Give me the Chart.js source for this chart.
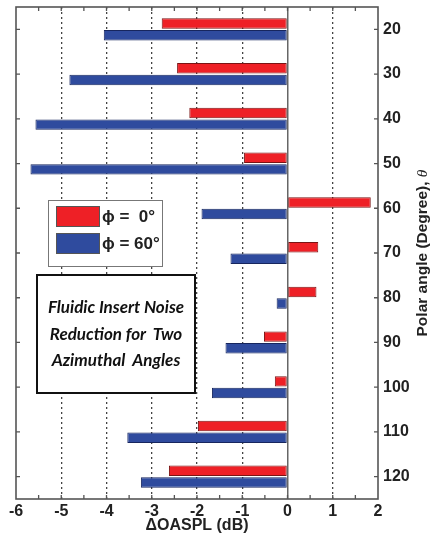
<!DOCTYPE html>
<html lang="en">
<head>
<meta charset="UTF-8">
<script src="https://cdn.jsdelivr.net/npm/chart.js"></script>
<style>
  body { margin: 0; background: #fff; }
  #wrap { position: relative; width: 432px; height: 535px; }
  .legend { position: absolute; left: 48px; top: 200px; width: 113px; height: 65px; border: 1.5px solid #777; background: #fff; }
  .legend .sw { position: absolute; left: 7px; width: 42px; height: 19px; border: 1px solid #555; }
  .legend .lb { position: absolute; left: 53px; font: bold 17px "Liberation Sans", Arial, sans-serif; color: #222; white-space: pre; }
  .note { position: absolute; left: 36px; top: 274px; width: 156px; height: 116px; border: 2px solid #111; background: #fff;
          font: italic bold 17px Lato, "Open Sans", sans-serif; color: #111; text-align: center; line-height: 26.5px;
          display: flex; flex-direction: column; justify-content: center; }
</style>
</head>
<body>
<div id="wrap">
  <canvas id="chart" width="432" height="535"></canvas>
  <div class="legend">
    <div class="sw" id="sw0" style="top:5px"></div><div class="lb" style="top:6px">ϕ =  0°</div>
    <div class="sw" id="sw1" style="top:32px"></div><div class="lb" style="top:33px">ϕ = 60°</div>
  </div>
  <div class="note">
    <div>Fluidic Insert Noise</div>
    <div>Reduction for&nbsp; Two</div>
    <div>Azimuthal&nbsp; Angles</div>
  </div>
</div>
<script>
const angles = ['20', '30', '40', '50', '60', '70', '80', '90', '100', '110', '120'];
const phi0 = [-2.78, -2.44, -2.17, -0.96, 1.84, 0.68, 0.64, -0.52, -0.28, -1.98, -2.62];
const phi60 = [-4.06, -4.82, -5.57, -5.68, -1.90, -1.26, -0.24, -1.37, -1.67, -3.54, -3.24];
const xMin = -6, xMax = 2;

const redFill = '#ee2026', redEdge = '#7a1414';
const blueFill = '#2f4b9e', blueEdge = '#17265e';
document.getElementById('sw0').style.background = redFill;
document.getElementById('sw1').style.background = blueFill;

const tickFont = { family: '"Liberation Sans", Arial, sans-serif', size: 16, weight: 'bold' };

const framePlugin = {
  id: 'frame',
  afterDraw(chart) {
    const { ctx, chartArea: a, scales: { x, y } } = chart;
    ctx.save();
    ctx.strokeStyle = '#555';
    ctx.lineWidth = 1.3;
    ctx.beginPath();
    for (let v = xMin + 0.5; v < xMax; v += 0.5) {
      const px = x.getPixelForValue(v);
      ctx.moveTo(px, a.top); ctx.lineTo(px, a.top + 4);
      ctx.moveTo(px, a.bottom); ctx.lineTo(px, a.bottom - 4);
    }
    angles.forEach((l, i) => {
      const py = y.getPixelForValue(i);
      ctx.moveTo(a.left, py); ctx.lineTo(a.left + 4, py);
      ctx.moveTo(a.right, py); ctx.lineTo(a.right - 4, py);
    });
    ctx.stroke();
    ctx.lineWidth = 1.6;
    ctx.strokeRect(a.left, a.top, a.right - a.left, a.bottom - a.top);

    // right-hand axis title, reading bottom to top
    ctx.translate(423, (a.top + a.bottom) / 2);
    ctx.rotate(-Math.PI / 2);
    const main = 'Polar angle (Degree), ';
    const mainFont = 'bold 15.5px "Liberation Sans", Arial, sans-serif';
    const thetaFont = 'italic 15.5px "Liberation Serif", serif';
    ctx.font = mainFont;
    const w1 = ctx.measureText(main).width;
    ctx.font = thetaFont;
    const w2 = ctx.measureText('θ').width;
    const sx = -(w1 + w2) / 2;
    ctx.fillStyle = '#222';
    ctx.textBaseline = 'middle';
    ctx.font = mainFont;
    ctx.fillText(main, sx, 0);
    ctx.font = thetaFont;
    ctx.fillText('θ', sx + w1, 0);
    ctx.restore();
  }
};

new Chart(document.getElementById('chart'), {
  type: 'bar',
  data: {
    labels: angles,
    datasets: [
      { label: 'ϕ = 0°', data: phi0, backgroundColor: redFill, borderColor: redEdge, borderWidth: 1, borderSkipped: false,
        categoryPercentage: 0.52, barPercentage: 0.9 },
      { label: 'ϕ = 60°', data: phi60, backgroundColor: blueFill, borderColor: blueEdge, borderWidth: 1, borderSkipped: false,
        categoryPercentage: 0.52, barPercentage: 0.9 }
    ]
  },
  options: {
    indexAxis: 'y',
    responsive: false,
    animation: false,
    layout: { padding: { left: 16, top: 7, right: 0, bottom: 0 } },
    plugins: { legend: { display: false }, tooltip: { enabled: false } },
    scales: {
      x: {
        type: 'linear',
        min: xMin, max: xMax,
        ticks: { stepSize: 1, color: '#222', font: tickFont, padding: 3, maxRotation: 0 },
        grid: {
          drawTicks: false,
          lineWidth: c => (c.tick && c.tick.value === 0 ? 1.5 : 1.3),
          color: c => {
            if (!c.tick) return '#444';
            if (c.tick.value === xMin || c.tick.value === xMax) return 'rgba(0,0,0,0)';
            return c.tick.value === 0 ? '#666' : '#444';
          }
        },
        border: { display: false, dash: c => (c.tick && c.tick.value === 0 ? [] : [2, 3]) },
        title: {
          display: true, text: 'ΔOASPL (dB)', color: '#222',
          font: { family: '"Liberation Sans", Arial, sans-serif', size: 16, weight: 'bold' },
          padding: { top: 0, bottom: 0 }
        },
        afterFit(s) { s.height = 36; }
      },
      y: {
        type: 'category',
        position: 'right',
        offset: true,
        ticks: { color: '#222', font: tickFont, padding: 5 },
        grid: { drawOnChartArea: false, drawTicks: false },
        border: { display: false },
        afterFit(s) { s.width = 54; s.paddingTop = 0; s.paddingBottom = 0; }
      }
    }
  },
  plugins: [framePlugin]
});
</script>
</body>
</html>
